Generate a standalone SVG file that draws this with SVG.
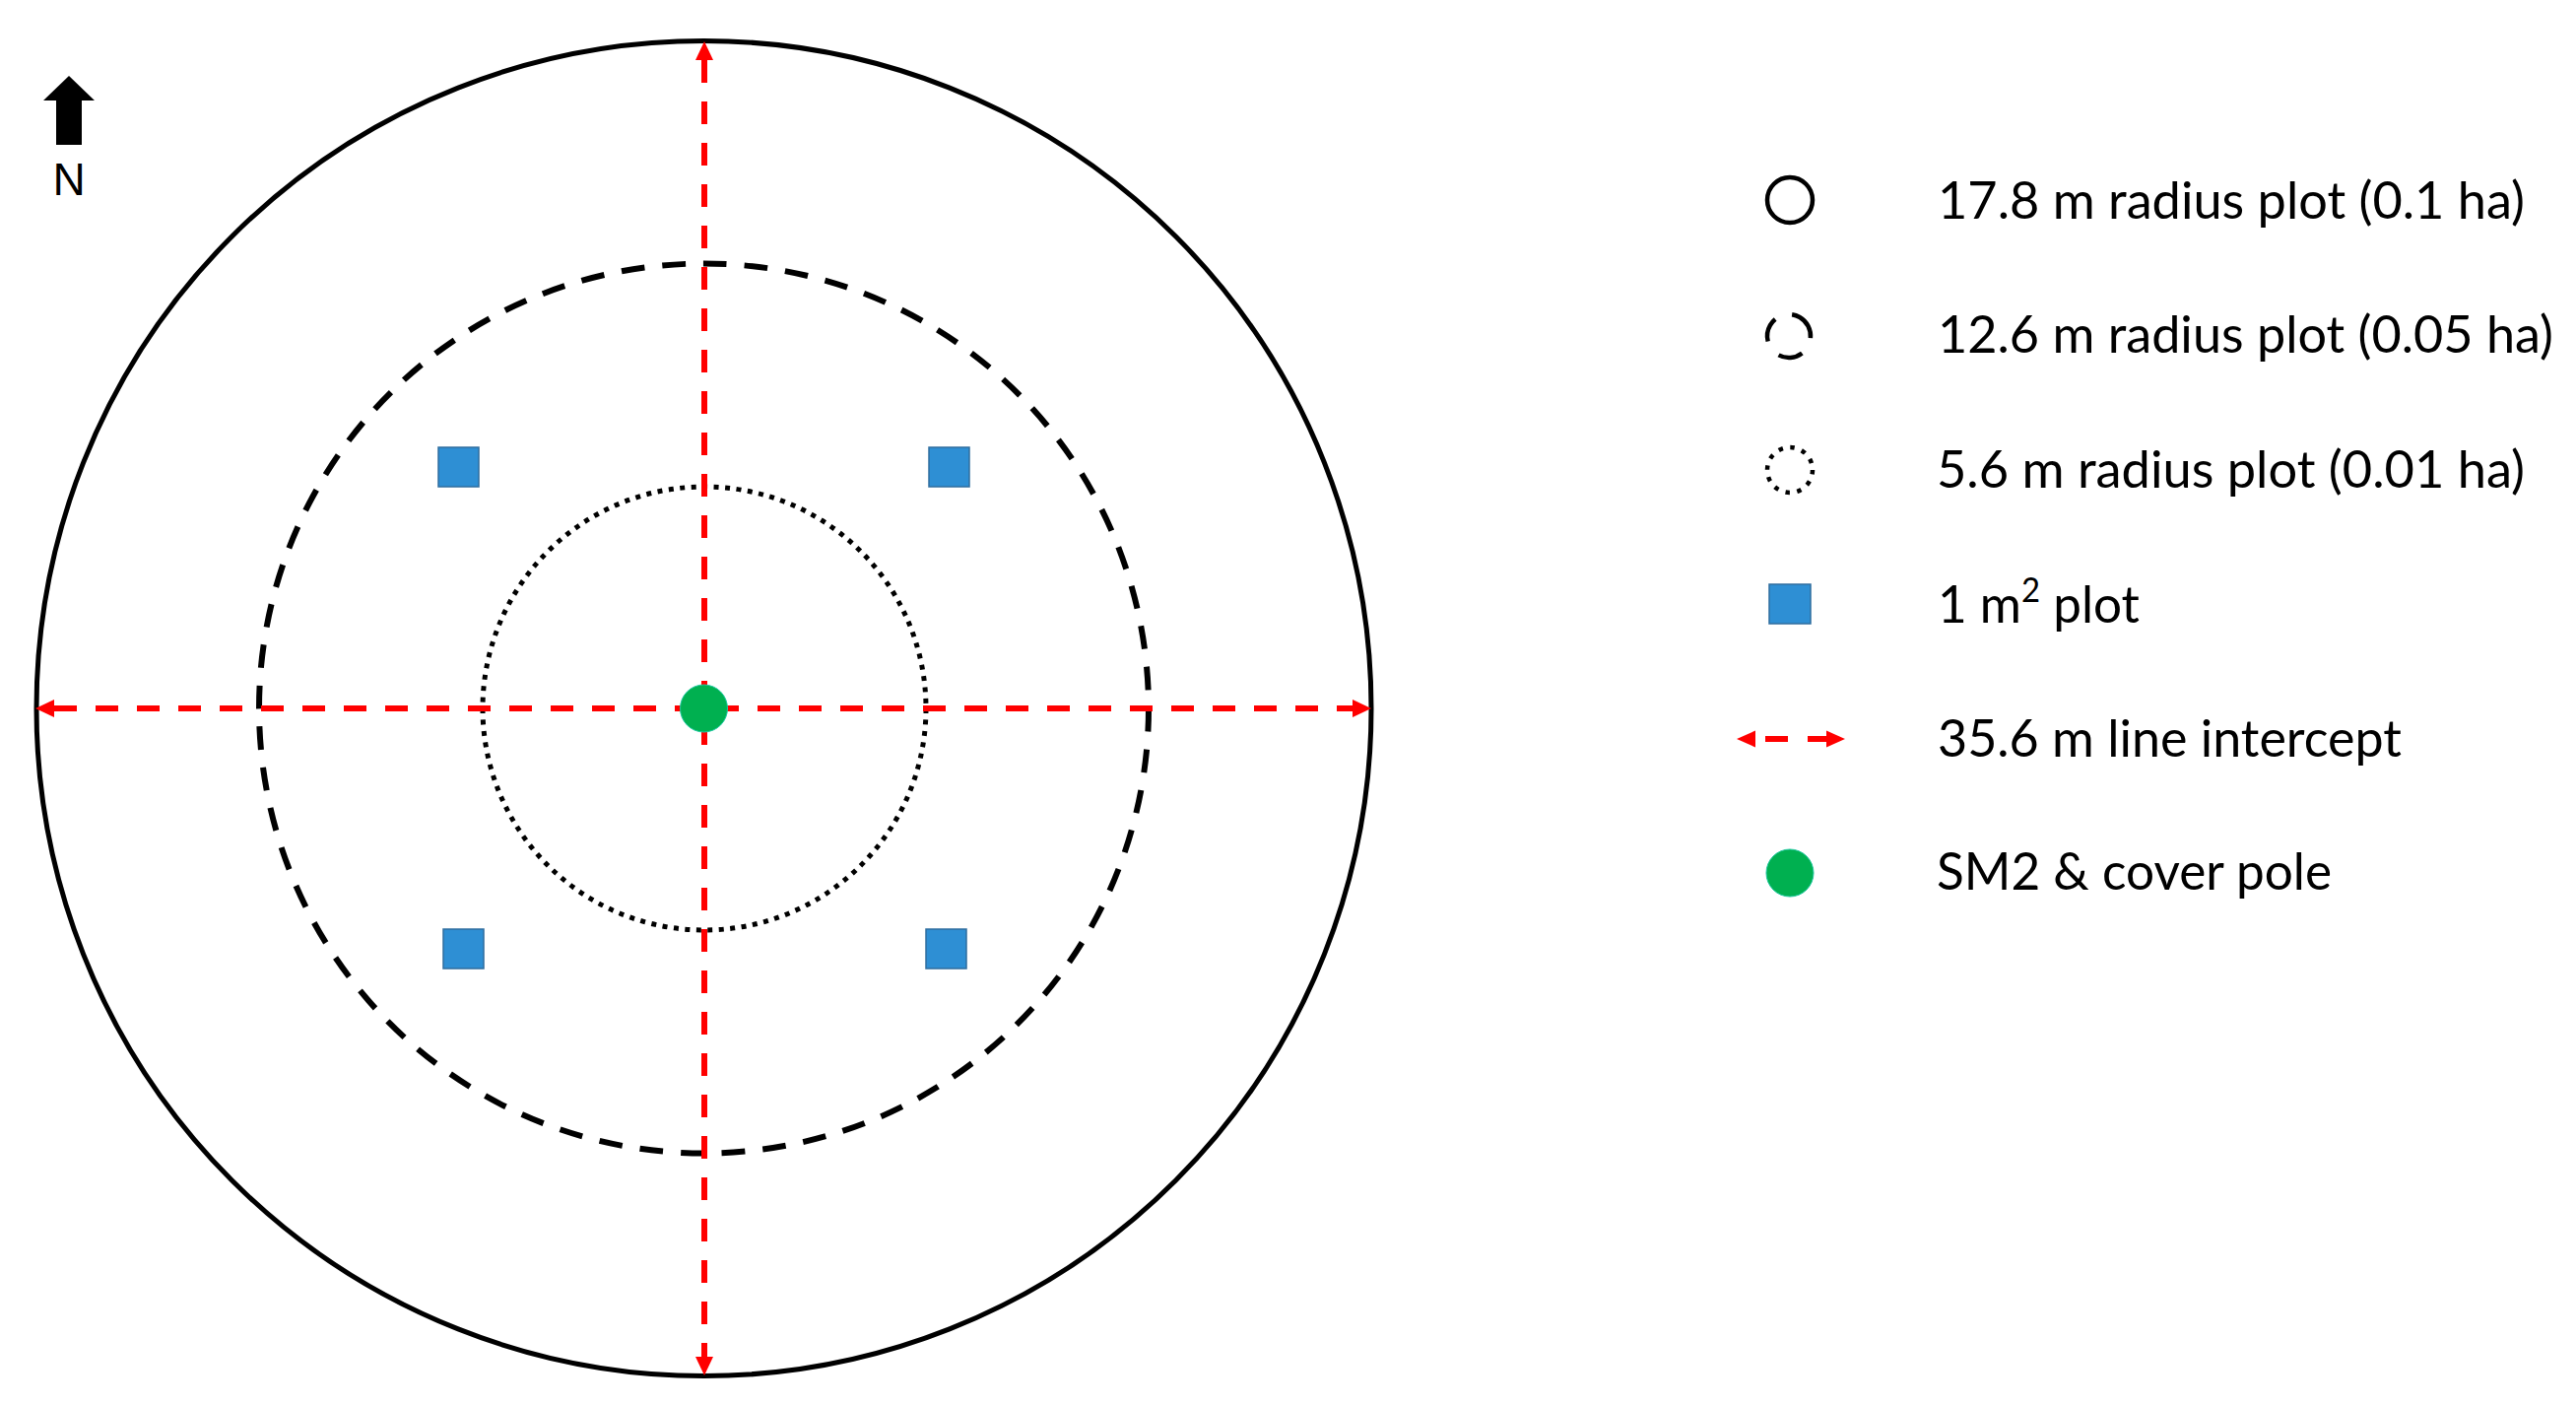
<svg xmlns="http://www.w3.org/2000/svg" width="2615" height="1426" viewBox="0 0 2615 1426">
<style>
.bg{fill:#ffffff}
.solid{fill:none;stroke:#000;stroke-width:5}
.dashed{fill:none;stroke:#000;stroke-width:6;stroke-dasharray:23.7 18}
.dotted{fill:none;stroke:#000;stroke-width:5;stroke-dasharray:5 6.5}
.sq{fill:#2E8FD4;stroke:#2F6D9E;stroke-width:1.5}
.pole{fill:#00B050;stroke:#1FC9A0;stroke-width:1}
.red{fill:none;stroke:#FF0000;stroke-width:6;stroke-dasharray:23 19}
.redfill{fill:#FF0000}
.lbl{font-family:Lato,"Open Sans","Liberation Sans",sans-serif;font-size:53px;fill:#000}
.n{font-family:"Liberation Sans",Arial,sans-serif;font-size:46px;fill:#000}
.lsolid{fill:none;stroke:#000;stroke-width:4.5}
.ldashed{fill:none;stroke:#000;stroke-width:4.5;stroke-dasharray:25 18}
.ldotted{fill:none;stroke:#000;stroke-width:4.5;stroke-dasharray:4.5 7.5}
</style>
<defs>
<marker id="ah" markerUnits="userSpaceOnUse" markerWidth="19" markerHeight="18" refX="0" refY="9" orient="auto-start-reverse" viewBox="0 0 19 18">
<path d="M0,0 L19,9 L0,18 Z" fill="#FF0000"/>
</marker>
</defs>
<rect class="bg" x="0" y="0" width="2615" height="1426"/>

<g id="north-arrow">
<polygon points="70,77 96,102 83,102 83,147 57,147 57,102 44,102" fill="#000"/>
<text class="n" x="70" y="198" text-anchor="middle">N</text>
</g>

<g id="plot-17-8m">
<circle class="solid" cx="714.5" cy="719" r="677.5"/>
</g>
<g id="plot-12-6m">
<circle class="dashed" cx="714.5" cy="719" r="451.5"/>
</g>
<g id="plot-5-6m">
<circle class="dotted" cx="715" cy="719" r="225"/>
</g>

<g id="connectors">
<line class="red" x1="55" y1="719" x2="1373" y2="719" marker-start="url(#ah)" marker-end="url(#ah)"/>
<line class="red" x1="715" y1="61" x2="715" y2="1377" marker-start="url(#ah)" marker-end="url(#ah)"/>
</g>

<g id="subplot-nw"><rect class="sq" x="445" y="454" width="41" height="40"/></g>
<g id="subplot-ne"><rect class="sq" x="943" y="454" width="41" height="40"/></g>
<g id="subplot-sw"><rect class="sq" x="450" y="943" width="41" height="40"/></g>
<g id="subplot-se"><rect class="sq" x="940" y="943" width="41" height="40"/></g>

<g id="center-pole">
<circle class="pole" cx="714.5" cy="719" r="24"/>
</g>

<g id="legend">
<g id="legend-outer">
<circle class="lsolid" cx="1817" cy="203" r="23"/>
<text class="lbl" x="1967" y="222" textLength="596" lengthAdjust="spacingAndGlyphs">17.8 m radius plot (0.1 ha)</text>
</g>
<g id="legend-mid">
<circle class="ldashed" cx="1816" cy="341" r="22" transform="rotate(-60 1816 341)"/>
<text class="lbl" x="1967" y="358" textLength="625" lengthAdjust="spacingAndGlyphs">12.6 m radius plot (0.05 ha)</text>
</g>
<g id="legend-inner">
<circle class="ldotted" cx="1817" cy="477" r="23"/>
<text class="lbl" x="1966" y="495" textLength="597" lengthAdjust="spacingAndGlyphs">5.6 m radius plot (0.01 ha)</text>
</g>
<g id="legend-square">
<rect class="sq" x="1796" y="593" width="42" height="40"/>
<text class="lbl" x="1967" y="632" textLength="205" lengthAdjust="spacingAndGlyphs">1 m<tspan font-size="34" dy="-21">2</tspan><tspan dy="21"> plot</tspan></text>
</g>
<g id="legend-line">
<polygon class="redfill" points="1763,750 1782,741.5 1782,758.5"/>
<rect class="redfill" x="1792" y="747" width="23" height="6"/>
<rect class="redfill" x="1835" y="747" width="21" height="6"/>
<polygon class="redfill" points="1873,750 1854,741.5 1854,758.5"/>
<text class="lbl" x="1967" y="768" textLength="471" lengthAdjust="spacingAndGlyphs">35.6 m line intercept</text>
</g>
<g id="legend-pole">
<circle class="pole" cx="1817" cy="886" r="24"/>
<text class="lbl" x="1966" y="903" textLength="401" lengthAdjust="spacingAndGlyphs">SM2 &amp; cover pole</text>
</g>
</g>
</svg>
